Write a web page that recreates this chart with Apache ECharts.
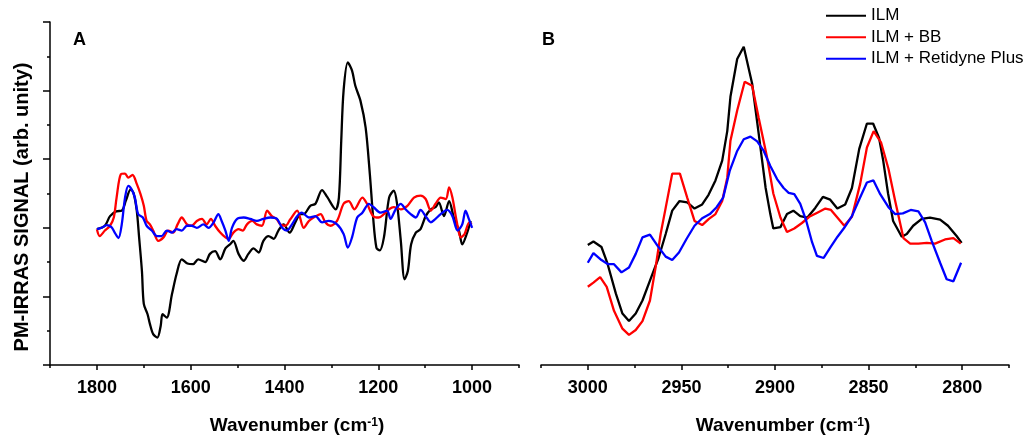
<!DOCTYPE html>
<html>
<head>
<meta charset="utf-8">
<script src="https://cdn.jsdelivr.net/npm/echarts@6/dist/echarts.min.js"></script>
<style>
html,body{margin:0;padding:0;background:#fff;}
#chart{width:1024px;height:438px;}
</style>
</head>
<body>
<div id="chart"></div>
<script>
// ---------- Panel A (1800-1000 cm-1) ----------
const seriesNames = ['ILM', 'ILM + BB', 'ILM + Retidyne Plus'];

const aIlmX = [1800,1783,1772,1759,1747,1738,1728,1722,1715,1710,1704,1700,1692,1687,1680,1671,1664,1660,1651,1640,1630,1619,1607,1595,1584,1569,1559,1548,1537,1526,1516,1509,1498,1487,1477,1466,1455,1445,1434,1423,1413,1402,1389,1377,1366,1359,1345,1334,1320,1309,1291,1284,1279,1274,1265,1256,1249,1238,1227,1218,1211,1204,1197,1188,1177,1167,1160,1152,1144,1137,1130,1120,1110,1099,1088,1078,1071,1060,1049,1039,1028,1021,1011,1003];
const aIlmY = [-0.02,0.03,0.17,0.24,0.25,0.40,0.56,0.51,0.25,-0.14,-0.63,-1.11,-1.26,-1.40,-1.55,-1.60,-1.43,-1.26,-1.31,-0.97,-0.67,-0.46,-0.52,-0.53,-0.46,-0.50,-0.38,-0.34,-0.46,-0.30,-0.24,-0.19,-0.38,-0.48,-0.38,-0.30,-0.36,-0.19,-0.12,-0.16,-0.04,0.05,-0.07,0.08,0.20,0.20,0.32,0.35,0.55,0.45,0.27,0.44,1.27,2.00,2.41,2.29,2.07,1.85,1.46,0.78,0.15,-0.29,-0.33,-0.14,0.44,0.54,0.35,-0.19,-0.75,-0.63,-0.24,-0.07,-0.02,0.17,0.27,0.30,0.37,0.17,0.39,0.15,-0.04,-0.24,-0.08,0.10];

const aBbX = [1800,1794,1783,1772,1764,1758,1749,1740,1733,1724,1715,1707,1700,1694,1687,1680,1669,1658,1648,1637,1628,1619,1608,1598,1587,1576,1566,1557,1548,1537,1526,1519,1509,1498,1489,1480,1469,1459,1448,1437,1427,1417,1409,1398,1388,1373,1359,1348,1338,1323,1313,1302,1288,1274,1263,1251,1234,1224,1211,1199,1188,1177,1167,1152,1138,1124,1110,1099,1088,1078,1067,1056,1049,1042,1033,1024,1016,1006,1001];
const aBbY = [-0.02,-0.12,-0.04,0.03,0.15,0.44,0.78,0.79,0.73,0.77,0.64,0.49,0.32,0.10,0.05,-0.04,-0.19,-0.14,-0.04,-0.07,0.05,0.15,0.05,0.03,0.10,0.13,0.05,0.13,0.03,-0.07,-0.14,-0.16,-0.07,-0.02,-0.04,0.05,0.10,0.05,0.03,0.25,0.17,0.13,0.05,0.03,0.12,0.25,0.00,0.10,0.15,0.20,0.08,0.03,0.10,0.35,0.39,0.27,0.44,0.35,0.17,0.15,0.20,0.27,0.30,0.27,0.32,0.44,0.47,0.42,0.25,0.35,0.44,0.42,0.59,0.44,0.10,-0.14,-0.09,0.08,0.05];

const aRpX = [1800,1790,1779,1769,1762,1754,1747,1740,1733,1726,1719,1712,1702,1694,1683,1672,1662,1651,1640,1630,1619,1608,1598,1587,1573,1562,1551,1541,1534,1526,1519,1512,1501,1487,1473,1459,1445,1430,1416,1405,1395,1384,1373,1363,1348,1334,1320,1306,1288,1274,1265,1256,1245,1234,1220,1210,1195,1181,1174,1163,1152,1142,1131,1120,1110,1099,1088,1078,1067,1053,1042,1031,1021,1014,1007,1000];
const aRpY = [-0.02,0.00,0.04,0.01,-0.07,-0.15,0.05,0.44,0.61,0.56,0.44,0.20,0.15,0.03,-0.04,-0.12,-0.12,-0.04,-0.07,-0.02,-0.04,0.03,0.03,0.00,0.05,0.00,0.08,0.20,0.10,-0.04,-0.19,0.00,0.13,0.15,0.13,0.10,0.13,0.15,0.13,0.00,-0.04,0.05,0.17,0.22,0.15,0.17,0.08,0.10,0.05,-0.09,-0.29,-0.14,0.15,0.22,0.35,0.30,0.22,0.25,0.13,0.27,0.35,0.27,0.20,0.15,0.26,0.17,0.08,0.13,0.20,0.26,0.17,-0.04,0.05,0.25,0.13,0.00];

// ---------- Panel B (3000-2800 cm-1) ----------
const bIlmX = [3000,2997,2992.7,2989.5,2985,2981.5,2978,2974.4,2970.8,2966.4,2962.2,2958.4,2954.9,2951,2946.9,2943,2938.9,2935.5,2931.8,2928.2,2925.5,2923.8,2920.2,2916.7,2912.2,2908.7,2905,2902.5,2900.9,2897.1,2893.6,2890.2,2886.5,2882.7,2878.5,2874.4,2870.5,2866.7,2862.5,2858.9,2855,2850.9,2847.6,2844.4,2842.2,2839.6,2836.9,2832.3,2829.6,2826.2,2821.6,2817.2,2811.8,2807.6,2803,2800.3];
const bIlmY = [-0.25,-0.20,-0.28,-0.52,-0.96,-1.25,-1.36,-1.25,-1.06,-0.74,-0.44,-0.09,0.25,0.39,0.37,0.28,0.34,0.48,0.69,0.98,1.41,1.91,2.46,2.64,2.10,1.37,0.58,0.20,-0.01,0.01,0.20,0.25,0.17,0.15,0.29,0.45,0.41,0.28,0.34,0.58,1.15,1.52,1.52,1.31,0.98,0.50,0.10,-0.13,-0.09,0.03,0.13,0.15,0.12,0.03,-0.12,-0.22];

const bBbX = [3000,2997,2993.4,2989.9,2986,2981.5,2978,2974.4,2970.8,2966.8,2963.8,2961.1,2958.4,2954.9,2950.8,2946.9,2943,2938.9,2935.3,2931.8,2928.2,2925.5,2923.8,2920.2,2916.2,2912.2,2908.7,2904.2,2900.9,2897.1,2893.6,2889.7,2885.6,2881.7,2877.4,2873.1,2870.1,2866.7,2863,2858.9,2854.5,2850.9,2847.3,2843.3,2839.4,2835.8,2831.4,2827.8,2823.4,2818.9,2814.5,2809.2,2804.7,2800.8];
const bBbY = [-0.86,-0.80,-0.72,-0.86,-1.21,-1.47,-1.56,-1.49,-1.36,-1.06,-0.58,-0.09,0.29,0.79,0.79,0.44,0.10,0.04,0.13,0.20,0.39,0.73,1.27,1.71,2.13,2.07,1.60,1.02,0.50,0.15,-0.06,-0.01,0.07,0.16,0.22,0.28,0.26,0.15,0.03,0.16,0.64,1.17,1.41,1.24,0.86,0.39,-0.15,-0.23,-0.23,-0.22,-0.23,-0.17,-0.15,-0.23];

const bRpX = [3000,2997,2992.7,2989.2,2986,2982,2978,2974.4,2970.8,2966.8,2962.8,2958.4,2954.9,2951.3,2947.2,2943,2938.9,2934.8,2931.2,2927.7,2924.2,2920.2,2916.7,2913.1,2909.5,2906,2902.5,2898.9,2895.4,2892.7,2889.7,2886.5,2883.3,2880.2,2877.6,2874,2870.5,2866.6,2863,2858.9,2854.9,2850.9,2847.4,2843.8,2839.4,2835.8,2831.7,2827.5,2823.4,2819.8,2816.3,2811.8,2808.3,2804.7,2800.6];
const bRpY = [-0.51,-0.37,-0.47,-0.53,-0.53,-0.65,-0.58,-0.38,-0.14,-0.10,-0.26,-0.42,-0.47,-0.36,-0.16,0.03,0.14,0.20,0.30,0.44,0.83,1.12,1.29,1.33,1.26,1.12,0.90,0.71,0.58,0.51,0.49,0.35,0.10,-0.21,-0.41,-0.44,-0.29,-0.13,0.00,0.17,0.42,0.66,0.69,0.49,0.30,0.20,0.21,0.26,0.24,0.08,-0.19,-0.51,-0.75,-0.78,-0.51];

// ---------- Tick values ----------
const aMajorTicks = [1000, 1200, 1400, 1600, 1800];
const aMinorTicks = [900, 1100, 1300, 1500, 1700, 1900];
const bMajorTicks = [2800, 2850, 2900, 2950, 3000];
const bMinorTicks = [2775, 2825, 2875, 2925, 2975, 3025];

const colors = ['#000000', '#ff0000', '#0000ff'];
const FONT = '"Liberation Sans", Arial, Helvetica, sans-serif';

function zip(xs, ys) { return xs.map((x, i) => [x, ys[i]]); }

function mainX(grid, min, max, ticks) {
  return {
    type: 'value', gridIndex: grid, min: min, max: max, inverse: true, position: 'bottom',
    axisLine: { show: true, onZero: false, lineStyle: { color: '#000', width: 1.5 } },
    axisTick: { show: true, customValues: ticks, length: 5, inside: false, lineStyle: { color: '#000', width: 1.5 } },
    axisLabel: { show: true, customValues: ticks, margin: 14, color: '#000', fontSize: 18, fontWeight: 'bold', fontFamily: FONT,
                 formatter: v => String(v) },
    splitLine: { show: false }
  };
}
function minorX(grid, min, max, ticks) {
  return {
    type: 'value', gridIndex: grid, min: min, max: max, inverse: true, position: 'bottom',
    axisLine: { show: false, onZero: false },
    axisTick: { show: true, customValues: ticks, length: 3, inside: false, lineStyle: { color: '#000', width: 1.5 } },
    axisLabel: { show: false },
    splitLine: { show: false }
  };
}

const chart = echarts.init(document.getElementById('chart'), null, { renderer: 'canvas' });

const lineW = 2.3;
function line(name, xi, yi, data, color, smooth) {
  return {
    name: name, type: 'line', xAxisIndex: xi, yAxisIndex: yi, data: data,
    showSymbol: false, symbol: 'none', smooth: smooth, animation: false,
    lineStyle: { color: color, width: lineW }, itemStyle: { color: color }
  };
}

chart.setOption({
  animation: false,
  backgroundColor: '#fff',
  grid: [
    { left: 50, top: 22, width: 469, height: 343 },
    { left: 541, top: 22, width: 468, height: 343 }
  ],
  xAxis: [
    mainX(0, 900, 1900, aMajorTicks),
    minorX(0, 900, 1900, aMinorTicks),
    mainX(1, 2775, 3025, bMajorTicks),
    minorX(1, 2775, 3025, bMinorTicks)
  ],
  yAxis: [
    {
      type: 'value', gridIndex: 0, min: -2, max: 3, interval: 1,
      axisLine: { show: true, lineStyle: { color: '#000', width: 1.5 } },
      axisTick: { show: true, length: 7, lineStyle: { color: '#000', width: 1.5 } },
      minorTick: { show: true, splitNumber: 2, length: 3, lineStyle: { color: '#000', width: 1.5 } },
      axisLabel: { show: false },
      splitLine: { show: false }, minorSplitLine: { show: false }
    },
    { type: 'value', gridIndex: 1, min: -2, max: 3, show: false, splitLine: { show: false } }
  ],
  legend: {
    data: seriesNames,
    orient: 'vertical', left: 826, top: 5, padding: 0,
    itemWidth: 40, itemHeight: 2, itemGap: 0, icon: 'rect',
    textStyle: { color: '#000', fontSize: 17, lineHeight: 21.5, fontFamily: FONT }
  },
  graphic: [
    { type: 'text', left: 73, top: 31, style: { text: 'A', fontSize: 18, fontWeight: 'bold', fontFamily: FONT, fill: '#000' } },
    { type: 'text', left: 542, top: 31, style: { text: 'B', fontSize: 18, fontWeight: 'bold', fontFamily: FONT, fill: '#000' } },
    { type: 'text', x: 22, y: 207, rotation: Math.PI / 2,
      style: { text: 'PM-IRRAS SIGNAL (arb. unity)', fontSize: 20, fontWeight: 'bold', fontFamily: FONT, fill: '#000', align: 'center', verticalAlign: 'middle' } },
    { type: 'text', x: 297, y: 426,
      style: { text: '{a|Wavenumber (cm}{s|-1}{a|)}', align: 'center', verticalAlign: 'middle', fill: '#000',
        rich: { a: { fontSize: 19, fontWeight: 'bold', fontFamily: FONT, fill: '#000' },
                s: { fontSize: 12, fontWeight: 'bold', fontFamily: FONT, fill: '#000', verticalAlign: 'top' } } } },
    { type: 'text', x: 783, y: 426,
      style: { text: '{a|Wavenumber (cm}{s|-1}{a|)}', align: 'center', verticalAlign: 'middle', fill: '#000',
        rich: { a: { fontSize: 19, fontWeight: 'bold', fontFamily: FONT, fill: '#000' },
                s: { fontSize: 12, fontWeight: 'bold', fontFamily: FONT, fill: '#000', verticalAlign: 'top' } } } }
  ],
  series: [
    line(seriesNames[0], 0, 0, zip(aIlmX, aIlmY), colors[0], 0.3),
    line(seriesNames[1], 0, 0, zip(aBbX, aBbY), colors[1], 0.3),
    line(seriesNames[2], 0, 0, zip(aRpX, aRpY), colors[2], 0.3),
    line(seriesNames[0], 2, 1, zip(bIlmX, bIlmY), colors[0], false),
    line(seriesNames[1], 2, 1, zip(bBbX, bBbY), colors[1], false),
    line(seriesNames[2], 2, 1, zip(bRpX, bRpY), colors[2], false)
  ]
});
</script>
</body>
</html>
